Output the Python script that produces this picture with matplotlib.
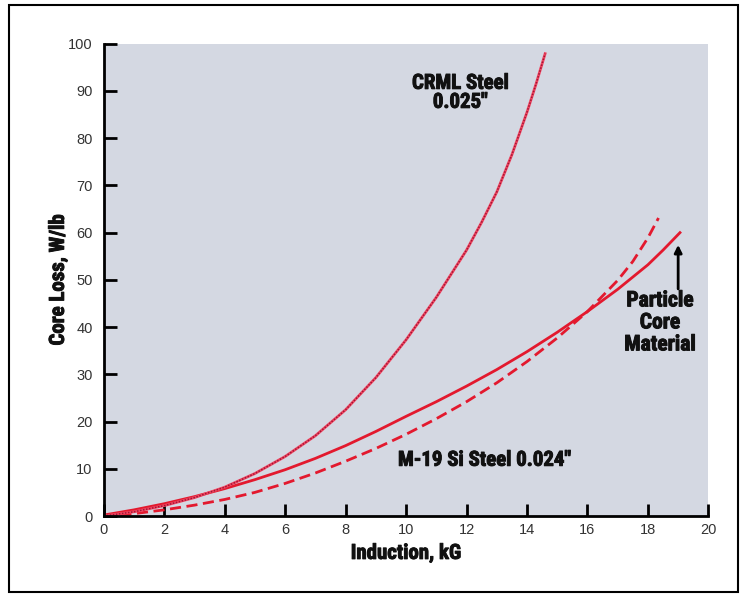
import matplotlib.pyplot as plt
import matplotlib.patheffects as pe
from matplotlib.patches import Rectangle

# Particle core material (solid)
particle_x = [0, 1, 2, 3, 4, 5, 6, 7, 8, 9, 10, 11, 12, 13, 14, 15, 16, 17, 18, 18.5, 19.06]
particle_y = [0.2, 1.3, 2.6, 4.1, 5.8, 7.7, 9.8, 12.2, 14.9, 17.9, 21.1, 24.2, 27.5, 31.0,
              34.8, 38.9, 43.3, 48.0, 53.2, 56.3, 60.0]

# M-19 Si steel 0.024" (dashed)
m19_x = [0, 1, 2, 3, 4, 5, 6, 7, 8, 9, 10, 11, 12, 13, 14, 15, 16, 17, 17.5, 18, 18.35]
m19_y = [0, 0.5, 1.3, 2.3, 3.5, 5.0, 6.9, 9.1, 11.6, 14.3, 17.3, 20.6, 24.2, 28.2,
         32.7, 37.7, 43.3, 49.9, 53.9, 58.9, 63.1]

# CRML steel 0.025" (dotted)
crml_x = [0, 1, 2, 3, 4, 5, 6, 7, 8, 9, 10, 11, 12, 12.5, 13, 13.5, 14, 14.3, 14.6]
crml_y = [0, 0.9, 2.2, 3.9, 6.1, 9.0, 12.6, 17.0, 22.5, 29.3, 37.3, 46.3, 56.3, 62.2,
          68.6, 76.5, 85.5, 91.5, 97.9]

x_ticks = list(range(0, 21, 2))
y_ticks = list(range(0, 101, 10))

red = '#e3192e'
grey = '#d4d8e2'
bold_font = ['Roboto Condensed', 'Liberation Sans Narrow', 'DejaVu Sans']
tf = dict(family=bold_font, fontweight='bold', fontstretch='condensed', color='#111111',
          path_effects=[pe.withStroke(linewidth=0.7, foreground='#111111')])

fig = plt.figure(figsize=(7.41, 5.94), dpi=100)
ax = fig.add_axes([0.14, 0.1313, 0.816, 0.7951])
ax.set_facecolor(grey)

ax.plot(particle_x, particle_y, color=red, lw=2.0)
ax.plot(m19_x, m19_y, color=red, lw=2.0, dashes=(4, 2))
ax.plot(crml_x, crml_y, color='#f04560', lw=2.0)
ax.plot(crml_x, crml_y, color='#a01535', lw=1.1, dashes=(1, 1))

ax.set_xlim(0, 20)
ax.set_ylim(0, 100)
ax.set_xticks(x_ticks)
ax.set_yticks(y_ticks)
ax.tick_params(direction='in', length=9, width=2, colors='black', labelcolor='#333333',
               labelsize=10.5)
ax.tick_params(axis='y', pad=8)
ax.tick_params(axis='x', pad=5)
for lab in ax.get_xticklabels() + ax.get_yticklabels():
    lab.set_family('Liberation Sans')

for side in ['top', 'right']:
    ax.spines[side].set_visible(False)
for side in ['left', 'bottom']:
    ax.spines[side].set_linewidth(2)

ax.set_xlabel('Induction, kG', fontsize=15, labelpad=5, **tf)
ax.set_ylabel('Core Loss, W/lb', fontsize=15, labelpad=0, **tf)

ax.text(11.8, 89.6, 'CRML Steel\n0.025"', fontsize=15, ha='center', va='center',
        linespacing=1.0, **tf)
ax.text(12.6, 11.8, 'M-19 Si Steel 0.024"', fontsize=15, ha='center', va='center', **tf)
ax.text(18.4, 41.0, 'Particle\nCore\nMaterial', fontsize=15.5, ha='center', va='center',
        linespacing=1.0, **tf)
ax.annotate('', xy=(19.0, 58.0), xytext=(19.0, 47.5),
            arrowprops=dict(arrowstyle='-|>', color='black', lw=2, mutation_scale=11))

fig.patches.append(Rectangle((0.012, 0.004), 0.984, 0.988, transform=fig.transFigure,
                             fill=False, edgecolor='black', lw=1.5))

fig.savefig('out.png', dpi=100)
